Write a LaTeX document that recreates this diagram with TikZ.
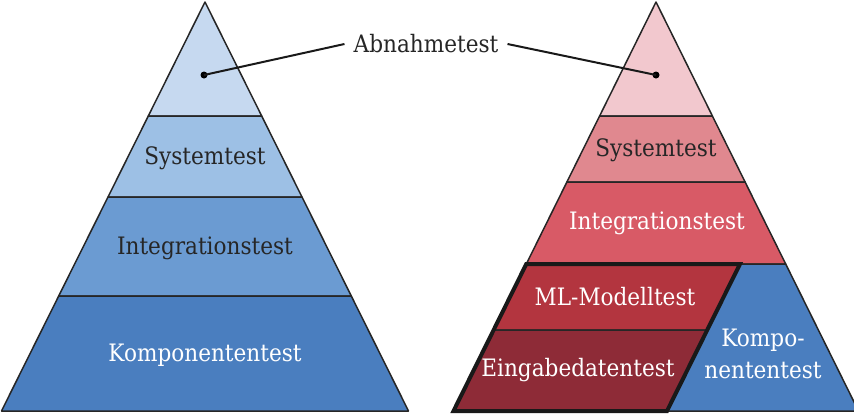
\documentclass[tikz,border=0pt]{standalone}
\usepackage{fontspec}
\setmainfont{DejaVu Serif}[FakeStretch=0.9]
\begin{document}
\begin{tikzpicture}[x=1pt,y=-1pt,
  layer/.style={draw=black!85,line width=1.5pt,line join=round},
  lbl/.style={font=\fontsize{24}{27}\selectfont,text=black!85,inner sep=0pt},
  wlbl/.style={lbl,text=white},
  lead/.style={draw=black!90,line width=2pt},
  dotmark/.style={circle,fill=black,inner sep=0pt,minimum size=7pt}]
\definecolor{bA}{HTML}{C6D9F0}
\definecolor{bB}{HTML}{9DC0E5}
\definecolor{bC}{HTML}{6B9BD2}
\definecolor{bD}{HTML}{4A7EBF}
\definecolor{rA}{HTML}{F2C8CE}
\definecolor{rB}{HTML}{E0888F}
\definecolor{rC}{HTML}{D85A66}
\definecolor{rD}{HTML}{B3353F}
\definecolor{rE}{HTML}{8E2B37}
\useasboundingbox (0,0) rectangle (854,416);
% left pyramid
\path[layer,fill=bA] (205,2) -- (261.7,116) -- (148.3,116) -- cycle;
\path[layer,fill=bB] (148.3,116) -- (261.7,116) -- (302,197) -- (108,197) -- cycle;
\path[layer,fill=bC] (108,197) -- (302,197) -- (351.3,296) -- (58.7,296) -- cycle;
\path[layer,fill=bD] (58.7,296) -- (351.3,296) -- (408.5,411) -- (1.5,411) -- cycle;
% right pyramid
\path[layer,fill=rA] (656,2) -- (712.4,116) -- (599.6,116) -- cycle;
\path[layer,fill=rB] (599.6,116) -- (712.4,116) -- (745.1,182) -- (566.9,182) -- cycle;
\path[layer,fill=rC] (566.9,182) -- (745.1,182) -- (785.7,264) -- (526.3,264) -- cycle;
\path[layer,fill=bD] (740,264) -- (785.7,264) -- (858.5,411) -- (667,411) -- cycle;
\path[layer,fill=rD] (526.3,264) -- (740,264) -- (707.2,330) -- (493.6,330) -- cycle;
\path[layer,fill=rE] (493.6,330) -- (707.2,330) -- (667,411) -- (453.5,411) -- cycle;
\draw[line width=4pt,black!90,line join=miter] (526.3,264) -- (740,264) -- (667,411) -- (453.5,411) -- cycle;
% labels
\node[lbl] (ls) at (205,158) {Systemtest};
\node[lbl] (li) at (205,248) {Integrationstest};
\node[wlbl] (lk) at (205,355) {Komponententest};
\node[lbl] (rs) at (656,150) {Systemtest};
\node[wlbl] (ri) at (657,223) {Integrationstest};
\node[wlbl] (rm) at (615,297) {ML-Modelltest};
\node[wlbl] (re) at (578,370) {Eingabedatentest};
\node[wlbl,align=center,font=\fontsize{24}{32}\selectfont] (rk) at (763,354) {Kompo-\\nententest};
\node[lbl,inner xsep=9pt] (ab) at (426,44) {Abnahmetest};
% leaders
\node[dotmark] (dl) at (204,75) {};
\node[dotmark] (dr) at (656,75) {};
\draw[lead] (ab.west) -- (dl.center);
\draw[lead] (ab.east) -- (dr.center);
\end{tikzpicture}
\end{document}
